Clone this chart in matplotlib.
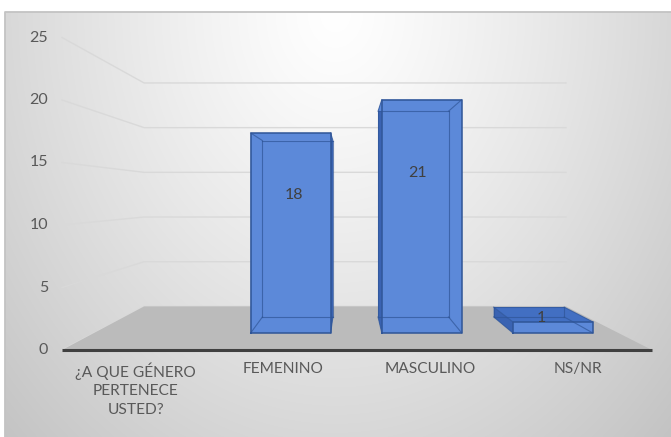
import numpy as np
import matplotlib
matplotlib.use('Agg')
import matplotlib.pyplot as plt
from matplotlib.patches import Polygon

# survey answers
categories = ["¿A QUE GÉNERO\nPERTENECE\nUSTED?", "FEMENINO", "MASCULINO", "NS/NR"]
counts = [np.nan, 18, 21, 1]
y_ticks = [0, 5, 10, 15, 20, 25]

W, H = 671, 437
FONT = 'Lato'
TEXT_COLOR = '#595959'

# simple perspective: front plane in pixels, shrunk towards a vanishing point
VPX, VPY = 350.0, 197.0
X0, X1 = 62.0, 652.0
BASE_Y = 350.0
PX_PER_UNIT = 12.5
S_FLOOR_BACK = 0.715
S_BAR_FRONT = 0.889
S_BAR_BACK = 0.784
BAR_WIDTH = 0.61
LABEL_FRAC = 0.69

BAR_FACE = '#5c89d9'
BAR_TOP = '#426fc2'
BAR_SIDE = '#3a63b2'
BAR_EDGE = '#2f5597'


def project(u, v, s):
    cw = (X1 - X0) / len(categories)
    x = X0 + u * cw
    y = BASE_Y - v * PX_PER_UNIT
    return VPX + s * (x - VPX), VPY + s * (y - VPY)


fig = plt.figure(figsize=(W / 100, H / 100), dpi=100)
ax = fig.add_axes([0, 0, 1, 1])
ax.set_xlim(0, W)
ax.set_ylim(H, 0)
ax.axis('off')

# chart area background
yy, xx = np.mgrid[12:H, 5:W]
r = np.sqrt(((xx - 335) / 335.0) ** 2 + ((yy - 12) / 425.0) ** 2)
g = np.clip(1 - 0.155 * r ** 1.2, 0, 1)
ax.imshow(np.dstack([g, g, g]), extent=(5, W, H, 12), aspect='auto', zorder=0,
          interpolation='bilinear')
ax.plot([5, 5, W], [H, 12, 12], color='#c3c3c3', lw=1.3, zorder=1)

# gridlines: side wall then back wall
for t in y_ticks:
    pts = [project(0, t, 1.0), project(0, t, S_FLOOR_BACK),
           project(len(categories), t, S_FLOOR_BACK)]
    ax.plot([p[0] for p in pts], [p[1] for p in pts], color='#d9d9d9', lw=1.0, zorder=2)
    px, py = project(0, t, 1.0)
    ax.text(px - 14, py, str(t), ha='right', va='center', fontsize=11.5,
            color=TEXT_COLOR, family=FONT, zorder=5)

# floor
n = len(categories)
floor = [project(0, 0, 1.0), project(n, 0, 1.0),
         project(n, 0, S_FLOOR_BACK), project(0, 0, S_FLOOR_BACK)]
ax.add_patch(Polygon(floor, closed=True, fc='#bbbbbb', ec='none', zorder=3))
ax.plot([floor[0][0], floor[1][0]], [floor[0][1], floor[1][1]],
        color='#404040', lw=2.2, zorder=4, solid_capstyle='butt')

# 3d columns
for i, v in enumerate(counts):
    if np.isnan(v):
        continue
    u0 = i + 0.5 - BAR_WIDTH / 2
    u1 = i + 0.5 + BAR_WIDTH / 2
    sf, sb = S_BAR_FRONT, S_BAR_BACK
    front = [project(u0, 0, sf), project(u1, 0, sf), project(u1, v, sf), project(u0, v, sf)]
    back = [project(u0, 0, sb), project(u1, 0, sb), project(u1, v, sb), project(u0, v, sb)]
    top = [front[3], front[2], back[2], back[3]]
    left = [front[0], front[3], back[3], back[0]]
    right = [front[1], front[2], back[2], back[1]]
    bottom = [front[0], front[1], back[1], back[0]]

    top_vis = front[3][1] > VPY
    left_vis = front[0][0] > VPX
    right_vis = front[1][0] < VPX

    z = 6
    for face, col in [(back, BAR_FACE), (bottom, BAR_FACE),
                      (left, BAR_SIDE if left_vis else BAR_FACE),
                      (right, BAR_SIDE if right_vis else BAR_FACE),
                      (top, BAR_TOP if top_vis else BAR_FACE)]:
        ax.add_patch(Polygon(face, closed=True, fc=col, ec='none', zorder=z))
    ax.add_patch(Polygon(front, closed=True, fc=BAR_FACE, ec='none', alpha=0.93, zorder=z + 1))

    # all edges, the far ones seen through the fill
    edges = [(back[k], back[(k + 1) % 4]) for k in range(4)] + \
            [(front[k], back[k]) for k in range(4)]
    for a, b in edges:
        ax.plot([a[0], b[0]], [a[1], b[1]], color=BAR_EDGE, lw=0.8, alpha=0.7, zorder=z + 2)
    fx = [p[0] for p in front] + [front[0][0]]
    fy = [p[1] for p in front] + [front[0][1]]
    ax.plot(fx, fy, color=BAR_EDGE, lw=1.1, zorder=z + 3)

    lx, ly = project(i + 0.5, v * LABEL_FRAC, (sf + sb) / 2)
    ax.text(lx, ly, str(int(v)), ha='center', va='center', fontsize=11.5,
            color='#404040', family=FONT, zorder=z + 4)

# category labels
for i, c in enumerate(categories):
    x, y = project(i + 0.5, 0, 1.0)
    ax.text(x, y + 12, c, ha='center', va='top', fontsize=11.2, color=TEXT_COLOR,
            family=FONT, linespacing=1.45, zorder=5)

fig.savefig('out.png', dpi=100)
